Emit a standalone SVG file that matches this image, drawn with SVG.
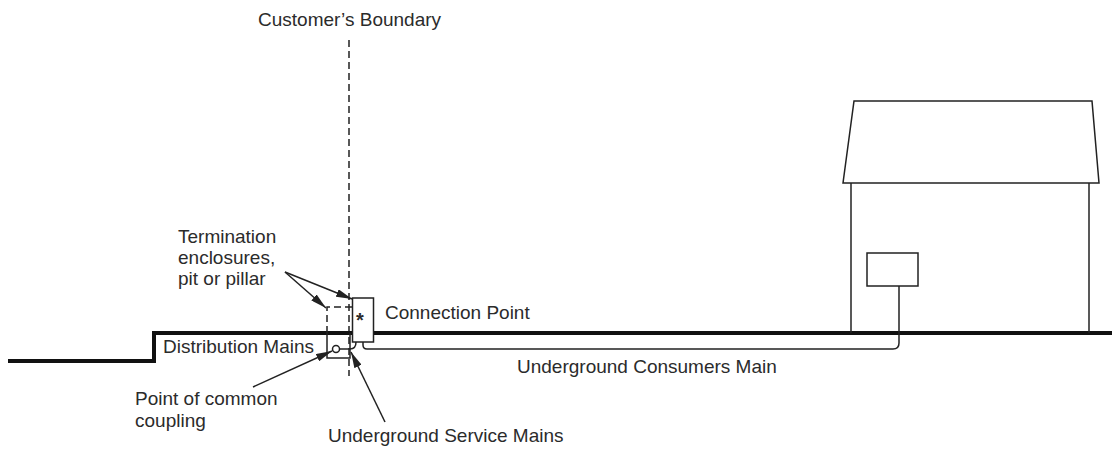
<svg xmlns="http://www.w3.org/2000/svg" width="1112" height="450" viewBox="0 0 1112 450">
<defs>
<style>
text{font-family:"Liberation Sans",Arial,sans-serif;font-size:19px;fill:#2b2b2b}
.thin{fill:none;stroke:#222;stroke-width:1.5}
.box{fill:#fff;stroke:#222;stroke-width:1.5}
.dash{fill:none;stroke:#222;stroke-width:1.5;stroke-dasharray:7,4}
.ground{fill:none;stroke:#111;stroke-width:4}
.arrow{fill:none;stroke:#222;stroke-width:1.5;marker-end:url(#ah)}
</style>
<marker id="ah" viewBox="0 0 16 8" refX="16" refY="4" markerWidth="16" markerHeight="8" markerUnits="userSpaceOnUse" orient="auto">
<path d="M0,0 L16,4 L0,8 Z" fill="#222"/>
</marker>
</defs>
<rect width="1112" height="450" fill="#fff"/>

<g id="boundary">
<line class="dash" x1="349" y1="40" x2="349" y2="376"/>
<text x="258" y="26">Customer’s Boundary</text>
</g>

<g id="ground">
<path class="ground" d="M8,361 H154 V333 H1112"/>
</g>

<g id="house">
<polygon class="box" points="854,101 1092,101 1099,183 843,183"/>
<line class="thin" x1="851" y1="183" x2="851" y2="333"/>
<line class="thin" x1="1089" y1="183" x2="1089" y2="333"/>
<rect id="meter" class="box" x="867" y="253" width="51" height="33"/>
</g>

<g id="termination">
<path class="dash" d="M327,333 V307 H352"/>
<path class="thin" d="M327,333 V358 H350 V333"/>
<rect id="pillar" class="box" x="352.5" y="298" width="21" height="44"/>
<text x="356" y="327" style="font-size:20px;font-weight:bold">*</text>
<circle id="pcc" cx="336" cy="349" r="3.5" fill="#fff" stroke="#222" stroke-width="1.5"/>
</g>

<g id="connectors">
<path class="thin" d="M339.5,349 H350 Q356,349 356,342"/>
<path class="thin" d="M363,342 V345 Q363,349 367,349 H893 Q899,349 899,343 V286"/>
<line class="arrow" x1="285" y1="272" x2="326" y2="308"/>
<line class="arrow" x1="285" y1="272" x2="352" y2="299"/>
<line class="arrow" x1="253" y1="387" x2="332" y2="351"/>
<line class="arrow" x1="385" y1="422" x2="351" y2="352"/>
</g>

<g id="labels">
<text x="178" y="243">Termination</text>
<text x="178" y="264">enclosures,</text>
<text x="178" y="285">pit or pillar</text>
<text x="385" y="319">Connection Point</text>
<text x="163" y="353">Distribution Mains</text>
<text x="517" y="373">Underground Consumers Main</text>
<text x="135" y="405">Point of common</text>
<text x="135" y="427">coupling</text>
<text x="328" y="442">Underground Service Mains</text>
</g>
</svg>
